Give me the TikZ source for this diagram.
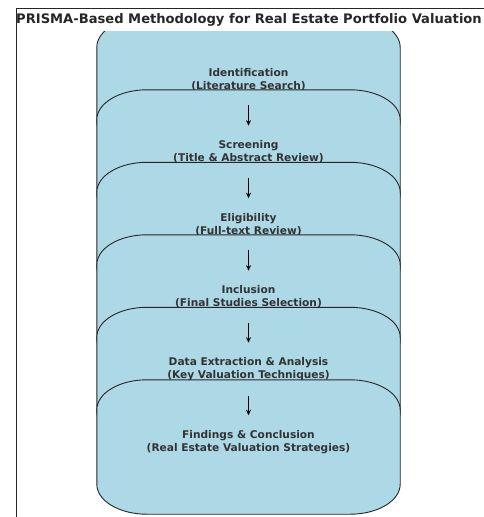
\documentclass[tikz,border=0pt]{standalone}
\usepackage{fontspec}
\setmainfont{DejaVu Sans}
\usetikzlibrary{positioning,arrows.meta}
\definecolor{boxblue}{HTML}{ADD8E6}
\definecolor{inkgray}{HTML}{333333}
\tikzset{
  stagebox/.style={minimum width=303pt,minimum height=134pt,inner sep=0pt},
  stageline/.style={draw=black!85,fill=boxblue,line width=0.9pt},
  stagetext/.style={text=inkgray,font=\fontsize{10.6}{12.8}\selectfont\bfseries,align=center,inner sep=0pt},
  flowarrow/.style={-{Stealth[length=5.5pt,width=5pt]},line width=1.4pt,black,shorten <=14.5pt,shorten >=15pt}
}

\begin{document}
\begin{tikzpicture}[x=1pt,y=1pt]
\useasboundingbox (0,0) rectangle (484,-517);

% stages, each one laid over the previous
\begin{scope}
\clip (0,-31) rectangle (484,-517);
\foreach \i/\ytop/\head/\note in {0/17.5/{Identification}/{Literature Search},
    1/90/{Screening}/{Title \& Abstract Review},
    2/162.5/{Eligibility}/{Full-text Review},
    3/235/{Inclusion}/{Final Studies Selection},
    4/307.5/{Data Extraction \& Analysis}/{Key Valuation Techniques},
    5/380/{Findings \& Conclusion}/{Real Estate Valuation Strategies}}{
  \node[stagebox] (b\i) at (248.5,-\ytop-67) {};
  \draw[stageline] ([xshift=50pt]b\i.north west) -- ([xshift=-50pt]b\i.north east)
    arc[start angle=90,end angle=0,x radius=50pt,y radius=30pt]
    -- ([yshift=30pt]b\i.south east)
    arc[start angle=0,end angle=-90,x radius=50pt,y radius=30pt]
    -- ([xshift=50pt]b\i.south west)
    arc[start angle=270,end angle=180,x radius=50pt,y radius=30pt]
    -- ([yshift=-30pt]b\i.north west)
    arc[start angle=180,end angle=90,x radius=50pt,y radius=30pt] -- cycle;
  \node[stagetext] (t\i) at ([yshift=5pt]b\i.center) {\head\\(\note)};
}
\end{scope}

% arrows between stages
\foreach \i [count=\j from 0] in {1,...,5}
  \draw[flowarrow] (t\j) -- (t\i);

% frame and title
\draw[line width=0.8pt,black!85] (16,-517) -- (16,-8) -- (484,-8);
\node[text=black!85,font=\fontsize{13.1}{15}\selectfont\bfseries] (title) at (249,-20)
  {PRISMA-Based Methodology for Real Estate Portfolio Valuation};
\end{tikzpicture}
\end{document}
